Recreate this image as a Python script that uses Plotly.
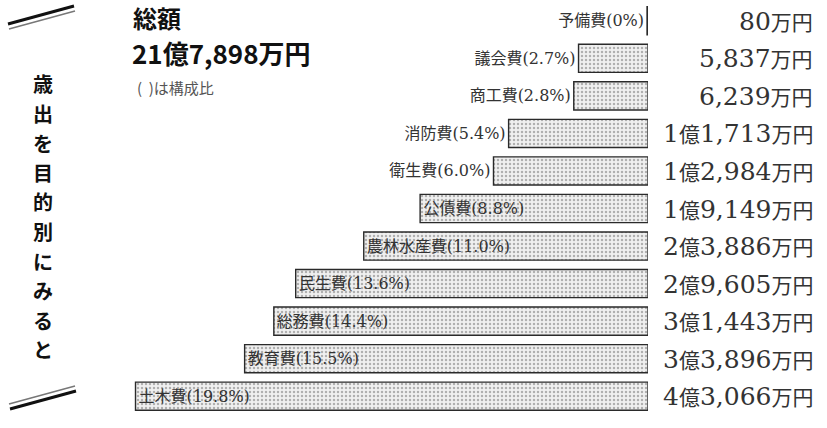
import re
import plotly.graph_objects as go

# ---- data ----
categories = ["予備費", "議会費", "商工費", "消防費", "衛生費", "公債費",
              "農林水産費", "民生費", "総務費", "教育費", "土木費"]
amounts = [80, 5837, 6239, 11713, 12984, 19149, 23886, 29605, 31443, 33896, 43066]  # 万円
shares = ["0%", "2.7%", "2.8%", "5.4%", "6.0%", "8.8%", "11.0%", "13.6%", "14.4%", "15.5%", "19.8%"]
amount_labels = ["80万円", "5,837万円", "6,239万円", "1億1,713万円", "1億2,984万円",
                 "1億9,149万円", "2億3,886万円", "2億9,605万円", "3億1,443万円",
                 "3億3,896万円", "4億3,066万円"]
total_label = "21億7,898万円"
side_title = "歳出を目的別にみると"

W, H = 827, 428
ML, MR, MT, MB = 100, 179, 2, 13
PW, PH = W - ML - MR, H - MT - MB


def px(x):
    return (x - ML) / PW


def py(y):
    return (H - MB - y) / PH


def styled_amount(s):
    # digits in a wide serif, kanji slightly smaller
    out = []
    for part in re.findall(r"[0-9,]+|[^0-9,]+", s):
        if part[0].isdigit() or part[0] == ",":
            out.append(f'<span style="font-family:DejaVu Serif;font-size:25px">{part}</span>')
        else:
            out.append(f'<span style="font-family:Noto Sans CJK JP;font-size:21px">{part}</span>')
    return "".join(out)


bar_text = [f"{c}({s})" for c, s in zip(categories, shares)]
positions = ["outside" if a < 15000 else "inside" for a in amounts]
label_font = dict(family="DejaVu Serif, Noto Sans CJK JP", size=16, color="#333")

fig = go.Figure()
fig.add_trace(go.Bar(
    y=categories, x=amounts, orientation="h",
    text=bar_text, textposition=positions, insidetextanchor="end",
    textfont=label_font, insidetextfont=label_font, outsidetextfont=label_font,
    cliponaxis=False,
    marker=dict(color="#dcdcdc",
                line=dict(color="#2a2a2a", width=1.4),
                pattern=dict(shape=".", size=4, solidity=0.3,
                             fgcolor="#707070", bgcolor="#f0f0f0")),
    hoverinfo="skip",
))

annotations = []
for c, lab in zip(categories, amount_labels):
    annotations.append(dict(x=px(815), y=c, xref="paper", yref="y",
                            text=styled_amount(lab), showarrow=False,
                            xanchor="right", yanchor="middle",
                            font=dict(family="DejaVu Serif, Noto Sans CJK JP", size=22, color="#333")))

annotations += [
    dict(x=px(131), y=py(17), xref="paper", yref="paper", text="<b>総額</b>",
         showarrow=False, xanchor="left", yanchor="middle",
         font=dict(family="Noto Sans CJK JP", size=24, color="#111")),
    dict(x=px(130), y=py(52), xref="paper", yref="paper", text=f"<b>{total_label}</b>",
         showarrow=False, xanchor="left", yanchor="middle",
         font=dict(family="Noto Sans CJK JP", size=26, color="#111")),
    dict(x=px(135), y=py(88), xref="paper", yref="paper", text="(  )は構成比",
         showarrow=False, xanchor="left", yanchor="middle",
         font=dict(family="Noto Sans CJK JP", size=15, color="#555")),
]
for i, ch in enumerate(side_title):
    annotations.append(dict(x=px(43), y=py(84 + 29.5 * i), xref="paper", yref="paper",
                            text=f"<b>{ch}</b>", showarrow=False,
                            xanchor="center", yanchor="middle",
                            font=dict(family="Noto Sans CJK JP", size=20, color="#111")))

shapes = [
    dict(type="line", xref="paper", yref="paper", x0=px(8), y0=py(24), x1=px(74), y1=py(6),
         line=dict(color="#111", width=3)),
    dict(type="line", xref="paper", yref="paper", x0=px(9), y0=py(29), x1=px(75), y1=py(11),
         line=dict(color="#777", width=1.5)),
    dict(type="line", xref="paper", yref="paper", x0=px(9), y0=py(404), x1=px(75), y1=py(386),
         line=dict(color="#777", width=1.5)),
    dict(type="line", xref="paper", yref="paper", x0=px(10), y0=py(409), x1=px(76), y1=py(391),
         line=dict(color="#111", width=3)),
]

fig.update_layout(
    width=W, height=H,
    margin=dict(l=ML, r=MR, t=MT, b=MB),
    paper_bgcolor="white", plot_bgcolor="white",
    showlegend=False, bargap=0.25,
    xaxis=dict(range=[46050, 0], visible=False, fixedrange=True),
    yaxis=dict(autorange="reversed", visible=False, fixedrange=True),
    annotations=annotations, shapes=shapes,
)

fig.write_html("out.html")
